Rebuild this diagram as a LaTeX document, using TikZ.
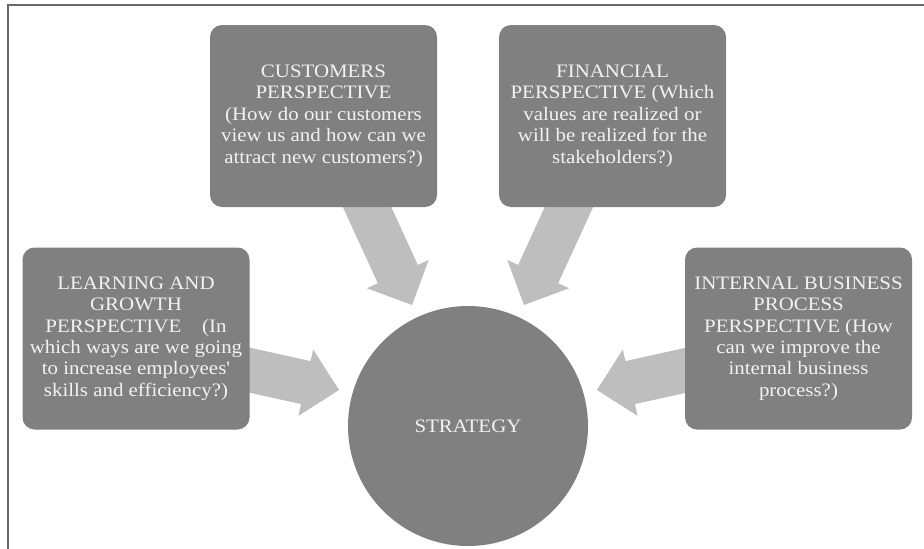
\documentclass[tikz,border=0pt]{standalone}
\usepackage{fontspec}
\setmainfont{Liberation Serif}[FakeStretch=1.1, Ligatures=TeXOff]
\usetikzlibrary{calc}
\definecolor{boxgray}{RGB}{128,128,128}
\definecolor{arrowgray}{RGB}{190,190,190}
\definecolor{textcol}{RGB}{242,242,242}
\definecolor{framecol}{RGB}{105,105,105}
\newcommand{\blockarr}[2]{%
  \coordinate (bh) at ($(#2)!34pt!(#1)$);
  \fill[arrowgray] ($(#1)!22pt!90:(#2)$) -- ($(bh)!22pt!-90:(#1)$) -- ($(bh)!34pt!-90:(#1)$) -- (#2)
    -- ($(bh)!34pt!90:(#1)$) -- ($(bh)!22pt!90:(#1)$) -- ($(#1)!22pt!-90:(#2)$) -- cycle;}
\tikzset{
  persp/.style={rectangle, rounded corners=12pt, fill=boxgray, text=textcol,
    minimum width=227pt, minimum height=182pt, inner sep=0pt, align=center,
    font=\fontsize{19}{21.4}\selectfont},
  core/.style={circle, fill=boxgray, text=textcol, minimum size=240pt, inner sep=0pt,
    font=\fontsize{19}{21.4}\selectfont}
}
\begin{document}
\begin{tikzpicture}[x=1pt,y=-1pt]
\useasboundingbox (0,0) rectangle (924,549);
\draw[framecol, line width=2pt] (7.5,549) -- (7.5,5) -- (924,5);
% arrow end points
\coordinate (s1) at (362,196); \coordinate (t1) at (412,305);
\coordinate (s2) at (574,196); \coordinate (t2) at (524,305);
\coordinate (s3) at (240,368); \coordinate (t3) at (339,390);
\coordinate (s4) at (696,368); \coordinate (t4) at (597,390);
\blockarr{s1}{t1}
\blockarr{s2}{t2}
\blockarr{s3}{t3}
\blockarr{s4}{t4}
\node[persp] (cust) at (323.5,116) {CUSTOMERS\\PERSPECTIVE\\(How do our customers\\view us and how can we\\attract new customers?)};
\node[persp] (fin) at (612.5,116) {FINANCIAL\\PERSPECTIVE (Which\\values are realized or\\will be realized for the\\stakeholders?)};
\node[persp] (learn) at (136,338.5) {LEARNING AND\\GROWTH\\PERSPECTIVE\ \ \ \ (In\\which ways are we going\\to increase employees'\\skills and efficiency?)};
\node[persp] (intl) at (798.5,338.5) {INTERNAL BUSINESS\\PROCESS\\PERSPECTIVE (How\\can we improve the\\internal business\\process?)};
\node[core] (strat) at (468,426) {STRATEGY};
\end{tikzpicture}
\end{document}
